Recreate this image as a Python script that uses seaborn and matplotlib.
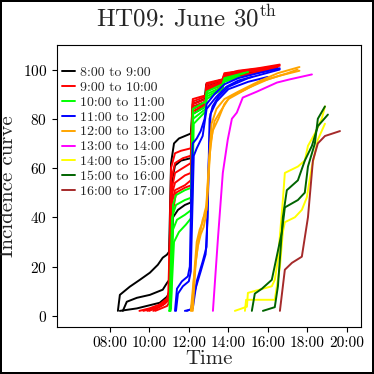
import matplotlib
matplotlib.use('Agg')
import matplotlib.pyplot as plt
import seaborn as sns
import pandas as pd

# each curve: (time in hours, incidence value)
p08 = [
    ([8.41, 8.51, 9.01, 9.52, 10.03, 10.43, 10.68, 10.89, 11.0, 11.1, 11.25, 11.5, 12.1, 12.2, 12.8, 12.88, 13.75, 13.8, 15.0, 16.2],
     [2, 8.5, 11.8, 14.6, 17.5, 20.7, 23.6, 24.8, 26, 62, 70, 72, 74, 86, 88, 94, 96, 97.5, 99.5, 100.5]),
    ([8.66, 8.86, 9.37, 10.03, 10.68, 10.9, 11.05, 11.15, 11.3, 11.6, 12.1, 12.2, 12.85, 12.9, 13.75, 13.8, 16.0],
     [2, 5.7, 7.3, 8.5, 10.6, 13.4, 15, 55, 61, 63, 64, 84, 87, 93, 95.5, 97, 100]),
    ([8.51, 9.37, 10.53, 10.89, 11.05, 11.2, 11.45, 11.8, 12.1, 12.2, 12.85, 12.9, 13.75, 13.8, 16.0],
     [2, 3, 5.3, 7.7, 10, 40, 43, 45, 46, 82, 85, 92, 95, 96.5, 99.5]),
]
p09 = [
    ([9.5, 10.0, 10.5, 10.9, 11.0, 11.1, 11.3, 11.6, 12.1, 12.2, 12.85, 12.9, 13.7, 13.8, 14.5, 15.5, 16.6],
     [2, 3, 4.5, 7, 10, 60, 66, 67, 68, 87, 89, 94, 95.5, 98, 99.5, 100.5, 102]),
    ([9.7, 10.4, 10.8, 11.0, 11.1, 11.3, 11.7, 12.1, 12.2, 12.85, 12.9, 13.7, 13.8, 15.0, 16.5],
     [2, 3.5, 6, 8, 55, 62, 64, 65, 86, 88, 93, 95, 97.5, 99.5, 101]),
    ([9.9, 10.6, 10.95, 11.1, 11.3, 11.7, 12.1, 12.2, 12.85, 12.9, 13.7, 13.8, 15.0, 16.4],
     [2, 4, 6, 50, 58, 60, 62, 85, 87, 92.5, 94.5, 97, 99, 100.5]),
    ([10.0, 10.7, 11.0, 11.1, 11.3, 11.8, 12.1, 12.2, 12.85, 12.9, 13.7, 13.8, 16.3],
     [2, 4.5, 7, 48, 54, 57, 58, 84, 86, 92, 94, 96.5, 100]),
    ([10.2, 10.8, 11.02, 11.12, 11.3, 11.8, 12.1, 12.2, 12.85, 12.9, 13.7, 13.8, 16.6],
     [2, 5, 8, 45, 51, 53, 55, 88, 89.5, 94.5, 96, 98.5, 101.5]),
    ([10.3, 10.9, 11.05, 11.15, 11.35, 11.8, 12.12, 12.2, 12.85, 12.9, 13.7, 13.8, 16.2],
     [2, 4, 6, 40, 50, 52, 53, 83, 85.5, 91.5, 93.5, 96, 100]),
]
p10 = [
    ([11.0, 11.1, 11.2, 11.35, 11.8, 12.12, 12.2, 12.85, 12.9, 13.7, 13.8, 15.0],
     [2, 3, 45, 49, 51, 52, 84, 87, 91, 94, 96.5, 99]),
    ([11.02, 11.15, 11.35, 11.8, 12.13, 12.22, 12.85, 12.9, 13.7, 13.8, 14.8],
     [2, 40, 45, 47, 48, 82, 85, 90, 93, 96, 98.5]),
    ([11.05, 11.2, 11.4, 11.8, 12.13, 12.22, 12.85, 12.9, 13.7, 13.8, 14.5],
     [2, 35, 39, 41, 43, 80, 84, 89, 92.5, 95.5, 97.5]),
    ([11.08, 11.25, 11.5, 11.85, 12.15, 12.25, 12.85, 12.9, 13.7, 13.8, 14.6],
     [2, 30, 34, 37, 40, 78, 83, 88, 92, 95, 97]),
]
p11 = [
    ([11.3, 11.4, 11.65, 11.95, 12.05, 12.15, 12.2, 12.4, 12.6, 12.8, 12.9, 13.3, 13.8, 14.5, 15.5, 16.6],
     [2, 11, 14, 16, 20, 60, 70, 72, 75, 80, 86, 90, 94, 96.5, 98.5, 100.5]),
    ([11.35, 11.45, 11.7, 12.0, 12.1, 12.25, 12.4, 12.7, 12.9, 13.4, 13.9, 14.5, 15.2],
     [2, 9, 12, 14, 18, 65, 68, 73, 84, 89, 93, 95.5, 97]),
    ([11.8, 12.1, 12.3, 12.6, 12.85, 12.95, 13.05, 13.2, 13.5, 14.0, 15.0, 16.6],
     [2, 2.5, 10, 18, 25, 40, 80, 85, 89, 93, 96.5, 100]),
    ([11.9, 12.2, 12.4, 12.7, 12.9, 13.0, 13.1, 13.4, 14.0, 15.0, 16.0],
     [2, 3, 14, 22, 28, 60, 82, 87, 92, 95, 97]),
]
p12 = [
    ([12.15, 12.3, 12.4, 12.55, 12.7, 12.8, 12.9, 13.05, 13.2, 13.5, 13.8, 14.1, 14.9, 15.6, 16.6, 17.6],
     [2, 20, 30, 35, 38, 42, 45, 65, 75, 80, 86, 89, 92, 95, 97.5, 99.5]),
    ([12.1, 12.25, 12.45, 12.6, 12.75, 12.85, 13.0, 13.15, 13.4, 13.8, 14.5, 15.5, 16.5, 17.6],
     [2, 15, 28, 33, 36, 40, 60, 78, 84, 88, 91, 95, 98.5, 101]),
    ([12.2, 12.35, 12.5, 12.7, 12.9, 13.1, 13.3, 13.6, 14.0, 15.0, 16.0, 17.0, 17.5],
     [2, 22, 31, 39, 43, 70, 79, 83, 88, 92.5, 96, 98.5, 100]),
]
p13 = [
    ([13.22, 13.47, 13.72, 13.97, 14.18, 14.43, 14.73, 15.44, 16.46, 17.11, 18.23],
     [2, 31, 58, 71.5, 80, 82.5, 88.6, 91, 94.7, 96, 98]),
]
p14 = [
    ([14.33, 14.94, 14.99, 16.2, 16.35, 16.51, 16.76, 16.86, 17.52, 17.87, 18.03, 18.38, 18.73, 18.89],
     [2, 3.7, 9.3, 12, 14.6, 22.8, 47, 58, 60.6, 63, 69, 74, 80, 85]),
    ([14.84, 14.9, 16.35, 16.61, 16.76, 16.86, 17.37, 17.72, 17.97, 18.23, 18.53, 18.89],
     [2, 6.5, 6.5, 20, 34, 38, 40, 43, 48, 60.6, 71.5, 78]),
]
p15 = [
    ([15.19, 15.34, 15.70, 16.2, 16.71, 16.86, 17.52, 17.87, 18.03, 18.38, 18.53, 18.89],
     [2, 9, 11, 14.6, 34, 44, 47, 50, 60.6, 70, 80, 85]),
    ([15.75, 16.35, 16.51, 16.76, 16.96, 17.52, 17.87, 18.23, 18.53, 19.04],
     [2, 3.5, 12, 40, 51, 55, 63, 69, 77, 81.7]),
]
p16 = [
    ([16.61, 16.86, 17.22, 17.72, 18.03, 18.28, 18.53, 18.89, 19.65],
     [2, 18.7, 21.5, 24, 40, 63, 70, 73, 75]),
]

periods = ['8:00 to 9:00', '9:00 to 10:00', '10:00 to 11:00', '11:00 to 12:00',
           '12:00 to 13:00', '13:00 to 14:00', '14:00 to 15:00', '15:00 to 16:00',
           '16:00 to 17:00']
colors = ['black', 'red', 'lime', 'blue', 'orange', 'magenta', 'yellow', 'darkgreen', 'brown']
groups = [p08, p09, p10, p11, p12, p13, p14, p15, p16]

rows = []
cid = 0
for label, curves in zip(periods, groups):
    for t, v in curves:
        for ti, vi in zip(t, v):
            rows.append({'time': ti, 'value': vi, 'period': label, 'curve': cid})
        cid += 1
df = pd.DataFrame(rows)

sns.set_style('ticks')
plt.rcParams['font.family'] = 'serif'
plt.rcParams['font.serif'] = ['cmr10']
plt.rcParams['mathtext.fontset'] = 'cm'
plt.rcParams['axes.unicode_minus'] = False
plt.rcParams['axes.formatter.use_mathtext'] = True

fig = plt.figure(figsize=(3.74, 3.74), dpi=100, linewidth=1.5, edgecolor='black')
ax = fig.add_axes([0.152, 0.126, 0.813, 0.754])

sns.lineplot(data=df, x='time', y='value', hue='period', units='curve', estimator=None,
             sort=False, palette=dict(zip(periods, colors)), hue_order=periods,
             linewidth=1.4, ax=ax)

ax.set_xlim(5.32, 20.71)
ax.set_ylim(-4.5, 110)
ax.set_xticks([8, 10, 12, 14, 16, 18, 20])
ax.set_xticklabels(['%02d:00' % h for h in [8, 10, 12, 14, 16, 18, 20]])
ax.set_yticks([0, 20, 40, 60, 80, 100])
ax.tick_params(labelsize=11, length=3.5, width=0.8, colors='black')
for s in ax.spines.values():
    s.set_color('black')
    s.set_linewidth(0.8)
ax.set_xlabel('Time', fontsize=15, labelpad=0)
ax.set_ylabel('Incidence curve', fontsize=15, labelpad=4)

sns.move_legend(ax, 'upper left', bbox_to_anchor=(0.0, 0.945), title=None, frameon=False,
                fontsize=10, labelspacing=0.16, handlelength=0.9, handletextpad=0.35,
                borderaxespad=0.0, borderpad=0.4)

fig.suptitle('HT09: June 30$^{\\rm th}$', fontsize=18, y=0.985)

plt.savefig('out.png', dpi=100, edgecolor=fig.get_edgecolor())
